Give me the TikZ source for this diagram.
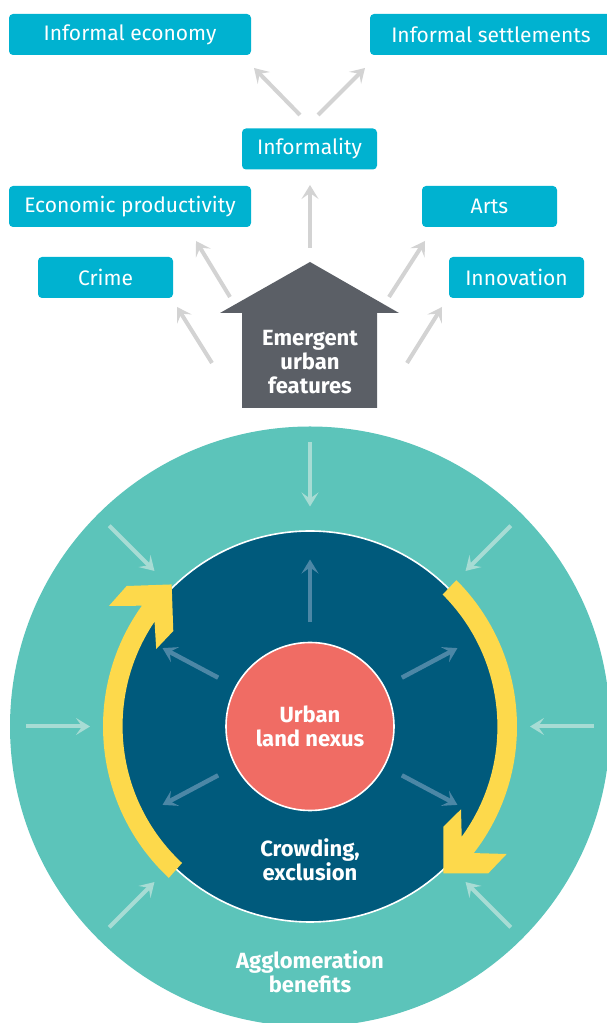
\documentclass[tikz,border=0pt]{standalone}
\usepackage{fontspec}
\setmainfont{Fira Sans}
\usetikzlibrary{arrows.meta,calc}

\definecolor{boxcyan}{HTML}{00B2D0}
\definecolor{housegray}{HTML}{5B5F66}
\definecolor{ringteal}{HTML}{5CC4BA}
\definecolor{coreblue}{HTML}{005A7C}
\definecolor{nexusred}{HTML}{F06C64}
\definecolor{loopyellow}{HTML}{FDD94B}
\definecolor{arrowgray}{HTML}{D3D3D3}
\definecolor{ringarrow}{HTML}{A7DCD4}
\definecolor{corearrow}{HTML}{4C87A6}

\begin{document}
\begin{tikzpicture}[x=1pt,y=1pt,
    box/.style={fill=boxcyan, rounded corners=4pt, text=white, inner sep=0pt,
        minimum height=41pt, font=\fontsize{21}{24}\selectfont},
    label/.style={text=white, align=center, font=\bfseries\fontsize{22}{24}\selectfont},
    grayarr/.style={draw=arrowgray, line width=4pt, -{Stealth[length=14pt,width=17pt,inset=6pt]}},
    ringarr/.style={draw=ringarrow, line width=4pt, -{Stealth[length=14pt,width=17pt,inset=6pt]}},
    corearr/.style={draw=corearrow, line width=4.5pt, -{Stealth[length=14pt,width=17pt,inset=6pt]}}]
            \clip (0,0) rectangle (607,1023);
            \useasboundingbox (0,0) rectangle (607,1023);

            % Draw feature boxes
            \node[box, minimum width=242pt] (ieco) at (130,988.5) {Informal economy};
            \node[box, minimum width=242pt] (iset) at (491,988.5) {Informal settlements};
            \node[box, minimum width=135pt] (infor) at (309.5,874) {Informality};
            \node[box, minimum width=242pt] (prod) at (130,816.5) {Economic productivity};
            \node[box, minimum width=135pt] (arts) at (489.5,816.5) {Arts};
            \node[box, minimum width=135pt] (crime) at (105.5,745.5) {Crime};
            \node[box, minimum width=135pt] (innov) at (516.5,745.5) {Innovation};

            % Draw house arrow
            \fill[housegray] (220,710) -- (310,761) -- (399,710) -- (377,710)
                -- (377,615) -- (242,615) -- (242,710) -- cycle;
            \node[label] (emerg) at (310,661) {Emergent\\urban\\features};

            % Gray arrows ends
            \coordinate (ieco-tl) at (300,908); \coordinate (ieco-hd) at (254,955);
            \coordinate (iset-tl) at (318,908); \coordinate (iset-hd) at (365,955);
            \coordinate (infor-tl) at (310,775); \coordinate (infor-hd) at (310,838);
            \coordinate (prod-tl) at (230,726); \coordinate (prod-hd) at (196,782);
            \coordinate (crime-tl) at (212,660); \coordinate (crime-hd) at (177,716);
            \coordinate (arts-tl) at (389,726); \coordinate (arts-hd) at (425,782);
            \coordinate (innov-tl) at (407,660); \coordinate (innov-hd) at (442,716);

            \draw[grayarr] (ieco-tl) -- (ieco-hd);
            \draw[grayarr] (iset-tl) -- (iset-hd);
            \draw[grayarr] (infor-tl) -- (infor-hd);
            \draw[grayarr] (prod-tl) -- (prod-hd);
            \draw[grayarr] (crime-tl) -- (crime-hd);
            \draw[grayarr] (arts-tl) -- (arts-hd);
            \draw[grayarr] (innov-tl) -- (innov-hd);

            % Draw circles
            \coordinate (C) at (310,296.5);
            \fill[ringteal] (C) circle[radius=300];
            \draw[white, line width=1.6pt, fill=coreblue] (C) circle[radius=195.5];

            \foreach \a in {0,45,90,135,180,225,315}
                \draw[ringarr] ($(C)+(\a:284)$) -- ($(C)+(\a:220)$);
            \foreach \a in {28,90,152,208,332}
                \draw[corearr] ($(C)+(\a:104)$) -- ($(C)+(\a:167)$);

            \node[circle, fill=nexusred, draw=white, line width=1.6pt, minimum size=168pt,
                inner sep=0pt, label] (nexus) at (C) {Urban\\land nexus};

            % Draw yellow loop arrows
            \foreach \r in {0,182}
                \fill[loopyellow, shift={(C)}, rotate=\r] (45:207)
                    arc[start angle=45, end angle=-37.7, radius=207]
                    -- (196.7,-127.5) -- (178.3,-146.8) -- (133.3,-146.8)
                    -- (133.3,-100.2) -- (151,-82.8) -- (151.7,-110.2)
                    arc[start angle=-36, end angle=45, radius=187] -- cycle;

            \node[label] (crowd) at (310,163) {Crowding,\\exclusion};
            \node[label] (agglo) at (310,51) {Agglomeration\\benefits};
        \end{tikzpicture}
\end{document}
